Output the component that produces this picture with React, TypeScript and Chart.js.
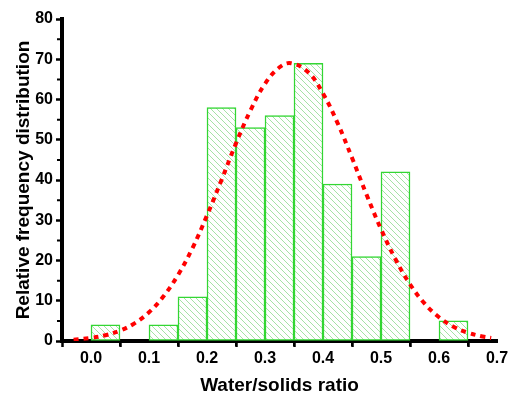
import React, { useEffect, useRef } from "react";
import { Chart, registerables } from "chart.js";

Chart.register(...registerables);

// Histogram bins (centers) and counts
const binCenters = [0.025, 0.125, 0.175, 0.225, 0.275, 0.325, 0.375, 0.425, 0.475, 0.525, 0.625];
const binCounts = [4, 4, 11, 58, 53, 56, 69, 39, 21, 42, 5];

// Fitted normal curve
const curveX = [-0.03, 0, 0.025, 0.05, 0.075, 0.1, 0.125, 0.15, 0.175, 0.2, 0.225, 0.25, 0.275, 0.3, 0.325, 0.345, 0.375, 0.4, 0.425, 0.45, 0.475, 0.5, 0.525, 0.55, 0.575, 0.6, 0.625, 0.65, 0.675, 0.69];
const curveY = [0.34, 0.77, 1.44, 2.57, 4.39, 7.13, 11.1, 16.4, 23.1, 31.2, 40.0, 49.1, 57.3, 63.9, 68.0, 69.0, 66.7, 61.5, 54.2, 45.5, 36.4, 27.8, 20.3, 14.1, 9.34, 5.9, 3.56, 2.05, 1.12, 0.77];

const xTicks = [0, 0.1, 0.2, 0.3, 0.4, 0.5, 0.6, 0.7];
const yTicks = [0, 10, 20, 30, 40, 50, 60, 70, 80];

function makeHatch(): CanvasPattern | string {
  const c = document.createElement("canvas");
  c.width = 6;
  c.height = 6;
  const g = c.getContext("2d");
  if (!g) return "rgba(160,225,160,0.5)";
  g.fillStyle = "#ffffff";
  g.fillRect(0, 0, 6, 6);
  g.strokeStyle = "#a6e2a6";
  g.lineWidth = 1;
  g.beginPath();
  g.moveTo(-1, -1);
  g.lineTo(7, 7);
  g.moveTo(-4, 2);
  g.lineTo(4, 10);
  g.moveTo(2, -4);
  g.lineTo(10, 4);
  g.stroke();
  const p = g.createPattern(c, "repeat");
  return p || "rgba(160,225,160,0.5)";
}

const minorTicks = {
  id: "minorTicks",
  afterDraw(chart: any) {
    const ctx = chart.ctx;
    const xs = chart.scales.x;
    const ys = chart.scales.y;
    ctx.save();
    ctx.strokeStyle = "#000";
    ctx.lineWidth = 2;
    ctx.beginPath();
    for (let v = 0.05; v <= 0.7001; v += 0.1) {
      const px = xs.getPixelForValue(v);
      ctx.moveTo(px, ys.bottom);
      ctx.lineTo(px, ys.bottom + 5);
    }
    for (let v = 5; v <= 80; v += 10) {
      const py = ys.getPixelForValue(v);
      ctx.moveTo(xs.left, py);
      ctx.lineTo(xs.left - 5, py);
    }
    ctx.stroke();
    ctx.restore();
  },
};

export default function App() {
  const ref = useRef<HTMLCanvasElement>(null);
  useEffect(() => {
    if (!ref.current) return;
    const hatch = makeHatch();
    const font = { family: "'Liberation Sans', Arial, sans-serif", weight: "bold" as const };
    const chart = new Chart(ref.current, {
      type: "bar",
      data: {
        datasets: [
          {
            type: "line" as const,
            data: curveX.map((x, i) => ({ x, y: curveY[i] })),
            borderColor: "#ff0000",
            borderWidth: 4,
            borderDash: [5, 5],
            pointRadius: 0,
            tension: 0.4,
            fill: false,
            order: 0,
          } as any,
          {
            type: "bar" as const,
            data: binCenters.map((x, i) => ({ x, y: binCounts[i] })),
            backgroundColor: hatch as any,
            borderColor: "#33d633",
            borderWidth: 1.5,
            borderSkipped: false,
            barPercentage: 1,
            categoryPercentage: 1,
            order: 1,
          } as any,
        ],
      },
      options: {
        animation: false,
        responsive: false,
        maintainAspectRatio: false,
        layout: { padding: { left: 0, right: 16, top: 19, bottom: 0 } },
        plugins: { legend: { display: false }, tooltip: { enabled: false } },
        scales: {
          x: {
            type: "linear",
            min: -0.05,
            max: 0.7,
            offset: false,
            z: 1,
            afterFit: (s: any) => {
              s.height = 59;
            },
            afterBuildTicks: (s: any) => {
              s.ticks = xTicks.map((v) => ({ value: v }));
            },
            ticks: {
              color: "#000",
              font: { ...font, size: 16 },
              padding: 2,
              maxRotation: 0,
              callback: (v: any) => Number(v).toFixed(1),
            },
            grid: {
              display: true,
              drawOnChartArea: false,
              drawTicks: true,
              tickLength: 6,
              tickWidth: 2.5,
              tickColor: "#000",
            },
            border: { display: true, color: "#000", width: 4 },
            title: {
              display: true,
              text: "Water/solids ratio",
              color: "#000",
              font: { ...font, size: 19 },
              padding: { top: 0, bottom: 3 },
            },
          },
          y: {
            type: "linear",
            min: 0,
            max: 80,
            z: 1,
            afterFit: (s: any) => {
              s.width = 62;
            },
            afterBuildTicks: (s: any) => {
              s.ticks = yTicks.map((v) => ({ value: v }));
            },
            ticks: {
              color: "#000",
              font: { ...font, size: 16 },
              padding: 3,
            },
            grid: {
              display: true,
              drawOnChartArea: false,
              drawTicks: true,
              tickLength: 6,
              tickWidth: 2.5,
              tickColor: "#000",
            },
            border: { display: true, color: "#000", width: 4 },
            title: {
              display: true,
              text: "Relative frequency distribution",
              color: "#000",
              font: { ...font, size: 19 },
              padding: { top: 12, bottom: 0 },
            },
          },
        },
      },
      plugins: [minorTicks],
    });
    return () => chart.destroy();
  }, []);
  return (
    <div style={{ position: "fixed", left: 0, top: 0, width: 513, height: 400, background: "#fff" }}>
      <canvas ref={ref} width={513} height={400} style={{ width: 513, height: 400 }} />
    </div>
  );
}
